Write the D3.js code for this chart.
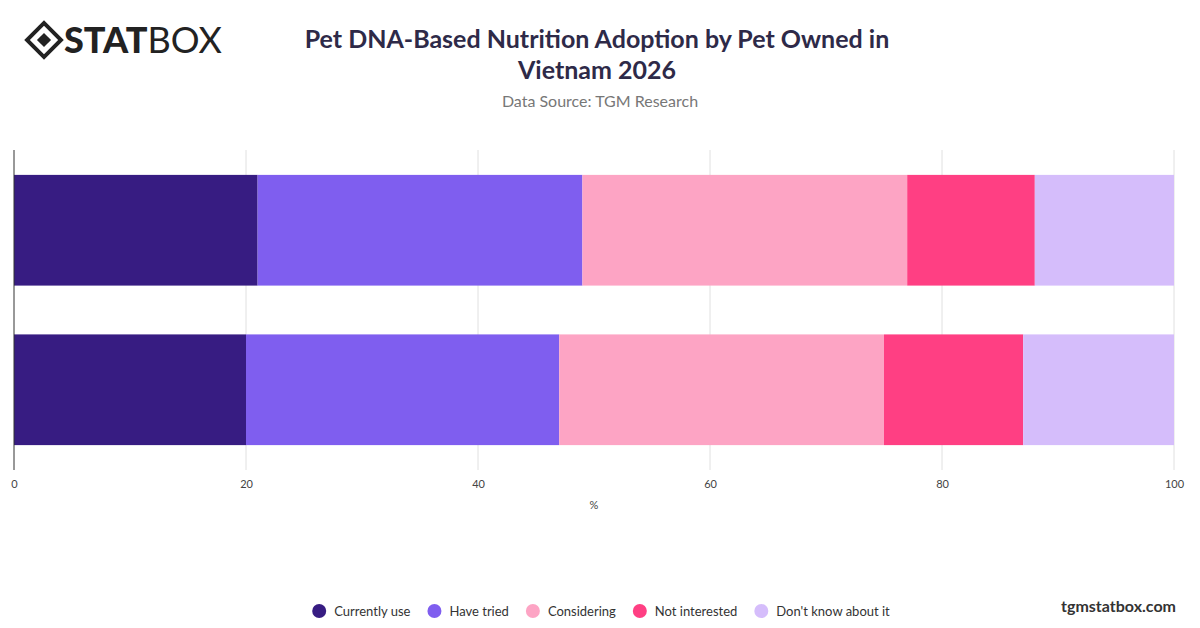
<!DOCTYPE html>
<html><head><meta charset="utf-8">
<script src="https://cdn.jsdelivr.net/npm/d3@7"></script>
<style>body{margin:0;background:#fff;font-family:Lato,"Open Sans",sans-serif}</style>
</head><body><svg id="c" width="1200" height="628"></svg>
<script>
const categories = ["Dog", "Cat"];
const seriesNames = ["Currently use", "Have tried", "Considering", "Not interested", "Don't know about it"];
const currentlyUse = [21, 20];
const haveTried = [28, 27];
const considering = [28, 28];
const notInterested = [11, 12];
const dontKnow = [12, 13];
const tickValues = [0, 20, 40, 60, 80, 100];
const colors = ["#371c82", "#7f5eef", "#fda4c4", "#ff3f83", "#d5bdfb"];

const svg = d3.select("#c");
const series = [currentlyUse, haveTried, considering, notInterested, dontKnow];
const rows = categories.map((c, i) => {
  const o = {cat: c}; seriesNames.forEach((s, j) => o[s] = series[j][i]); return o;
});
const stacked = d3.stack().keys(seriesNames)(rows);

const x = d3.scaleLinear().domain([0, 100]).range([14, 1174]);
const y = d3.scaleBand().domain(categories).range([150, 470]).paddingInner(0.306).paddingOuter(0.156);

svg.append("g").selectAll("line").data(tickValues.slice(1)).join("line")
  .attr("x1", d => x(d)).attr("x2", d => x(d)).attr("y1", 150).attr("y2", 470)
  .attr("stroke", "#e0e0e0");

svg.append("g").selectAll("g").data(stacked).join("g").attr("fill", (d, i) => colors[i])
  .selectAll("rect").data(d => d).join("rect")
  .attr("x", d => x(d[0])).attr("width", d => x(d[1]) - x(d[0]))
  .attr("y", d => y(d.data.cat)).attr("height", y.bandwidth());

svg.append("line").attr("x1", 14).attr("x2", 14).attr("y1", 150).attr("y2", 470).attr("stroke", "#333");

const ax = svg.append("g").attr("transform", "translate(0,470)")
  .call(d3.axisBottom(x).tickValues(tickValues).tickSize(0).tickPadding(10));
ax.select(".domain").remove();
ax.selectAll("text").attr("font-size", 11).attr("fill", "#444").attr("font-family", "Lato, sans-serif");
svg.append("text").attr("x", 594).attr("y", 509).attr("text-anchor", "middle").attr("font-size", 11).attr("fill", "#444").text("%");

svg.append("text").attr("x", 597).attr("y", 48).attr("text-anchor", "middle").attr("font-size", 25).attr("font-weight", 700).attr("fill", "#2e2a48").text("Pet DNA-Based Nutrition Adoption by Pet Owned in");
svg.append("text").attr("x", 597).attr("y", 79).attr("text-anchor", "middle").attr("font-size", 25).attr("font-weight", 700).attr("fill", "#2e2a48").text("Vietnam 2026");
svg.append("text").attr("x", 600).attr("y", 107).attr("text-anchor", "middle").attr("font-size", 16).attr("fill", "#777").text("Data Source: TGM Research");

const lg = svg.append("g").attr("transform", "translate(44,40)");
lg.append("rect").attr("x", -12).attr("y", -12).attr("width", 24).attr("height", 24).attr("transform", "rotate(45)").attr("fill", "none").attr("stroke", "#222").attr("stroke-width", 4);
lg.append("rect").attr("x", -5).attr("y", -5).attr("width", 10).attr("height", 10).attr("transform", "rotate(45)").attr("fill", "#222");
svg.append("text").attr("x", 64).attr("y", 53).attr("font-size", 36).attr("font-weight", 900).attr("fill", "#222").attr("font-family", "Lato, sans-serif")
  .html('STAT<tspan font-weight="400">BOX</tspan>');

const items = seriesNames.map((s, i) => ({s, c: colors[i]}));
const lgd = svg.append("g");
let xx = 0; const pos = [];
const tmp = svg.append("text").attr("font-size", 13);
items.forEach(d => { tmp.text(d.s); const w = tmp.node().getComputedTextLength(); pos.push(xx); xx += 20 + w + 19; });
tmp.remove();
const total = xx - 19; const start = 600 - total / 2;
items.forEach((d, i) => {
  const g = lgd.append("g").attr("transform", `translate(${start + pos[i]},611)`);
  g.append("circle").attr("cx", 7).attr("cy", 0).attr("r", 7).attr("fill", d.c);
  g.append("text").attr("x", 22).attr("y", 4.5).attr("font-size", 13).attr("fill", "#333").text(d.s);
});
svg.append("text").attr("x", 1176).attr("y", 612).attr("text-anchor", "end").attr("font-size", 16).attr("font-weight", 700).attr("fill", "#333").text("tgmstatbox.com");
</script></body></html>
